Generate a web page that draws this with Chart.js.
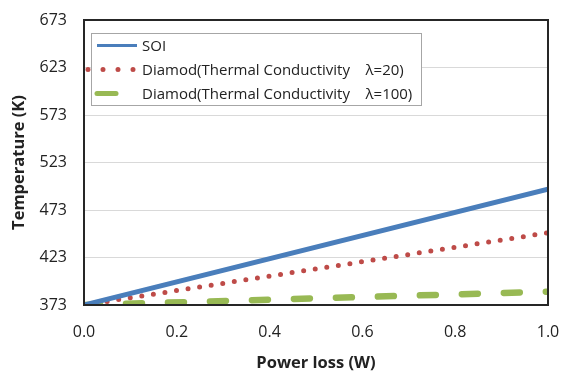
<!DOCTYPE html>
<html>
<head>
<meta charset="utf-8">
<script src="https://cdn.jsdelivr.net/npm/chart.js@4/dist/chart.umd.min.js"></script>
<style>
  html, body { margin: 0; padding: 0; background: #fff; }
  #wrap { width: 561px; height: 374px; position: relative; }
</style>
</head>
<body>
<div id="wrap"><canvas id="chart"></canvas></div>
<script>
// --- Data ---
const powerLoss = [0.0, 1.0];
const soiTemp = [373, 495];
const diamond20Temp = [373, 449];
const diamond100Temp = [373, 387];

const xTicks = [0.0, 0.2, 0.4, 0.6, 0.8, 1.0];
const yTicks = [373, 423, 473, 523, 573, 623, 673];

const seriesLabels = [
    'SOI',
    'Diamod(Thermal Conductivity    \u03bb=20)',
    'Diamod(Thermal Conductivity    \u03bb=100)'
];

const FONT = "'Open Sans', 'Noto Sans', sans-serif";

const toPoints = (ys) => powerLoss.map((x, i) => ({ x: x, y: ys[i] }));

// box around plot + legend inside it
const framePlugin = {
    id: 'frame',
    afterDraw(chart) {
        const { ctx, chartArea: a } = chart;
        ctx.save();
        ctx.strokeStyle = '#262626';
        ctx.lineWidth = 2;
        ctx.strokeRect(a.left, a.top, a.right - a.left, a.bottom - a.top);

        // legend
        const lx = a.left + 7, ly = a.top + 13, lw = 330, lh = 72;
        ctx.fillStyle = '#fff';
        ctx.fillRect(lx, ly, lw, lh);
        ctx.strokeStyle = '#a6a6a6';
        ctx.lineWidth = 1;
        ctx.strokeRect(lx + 0.5, ly + 0.5, lw, lh);

        chart.data.datasets.forEach((ds, i) => {
            const yy = ly + 12.5 + i * 24;
            ctx.beginPath();
            ctx.strokeStyle = ds.borderColor;
            ctx.lineWidth = i === 0 ? 3 : ds.borderWidth;
            ctx.lineCap = ds.borderCapStyle || 'butt';
            ctx.setLineDash(i === 1 ? [0, 15] : []);
            if (i === 2) { ctx.lineWidth = 5; ctx.lineCap = 'round'; }
            const x0 = i === 1 ? lx - 3 : lx + 6;
            const x1 = i === 2 ? lx + 25 : lx + 46;
            ctx.moveTo(x0, yy);
            ctx.lineTo(x1, yy);
            ctx.stroke();
            ctx.setLineDash([]);
            ctx.fillStyle = '#222';
            ctx.font = '15px ' + FONT;
            ctx.textBaseline = 'middle';
            ctx.fillText(ds.label, lx + 51, yy + 1);
        });
        ctx.restore();
    }
};

new Chart(document.getElementById('chart').getContext('2d'), {
    type: 'line',
    data: {
        datasets: [
            {
                label: seriesLabels[0],
                data: toPoints(soiTemp),
                borderColor: '#4a7ebb',
                borderWidth: 5,
                pointRadius: 0,
                fill: false
            },
            {
                label: seriesLabels[1],
                data: toPoints(diamond20Temp),
                borderColor: '#be4b48',
                borderWidth: 5,
                borderDash: [0, 11.7],
                borderCapStyle: 'round',
                pointRadius: 0,
                fill: false
            },
            {
                label: seriesLabels[2],
                data: toPoints(diamond100Temp),
                borderColor: '#98b954',
                borderWidth: 6.5,
                borderDash: [16, 26],
                borderCapStyle: 'round',
                pointRadius: 0,
                fill: false
            }
        ]
    },
    options: {
        responsive: true,
        maintainAspectRatio: false,
        animation: false,
        layout: { padding: { top: 20, right: 13, left: 0, bottom: 0 } },
        plugins: {
            legend: { display: false },
            tooltip: { enabled: false }
        },
        scales: {
            x: {
                type: 'linear',
                min: 0,
                max: 1,
                afterBuildTicks: (s) => { s.ticks = xTicks.map(v => ({ value: v })); },
                afterFit: (s) => { s.height = 69; s.paddingLeft = 0; s.paddingRight = 0; },
                grid: { display: false, drawTicks: false },
                border: { display: false },
                ticks: {
                    color: '#222',
                    font: { family: FONT, size: 16 },
                    padding: 18,
                    callback: (v) => Number(v).toFixed(1)
                },
                title: {
                    display: true,
                    text: 'Power loss (W)',
                    color: '#222',
                    font: { family: FONT, size: 16.5, weight: 'bold' },
                    padding: { top: 0, bottom: 1 }
                }
            },
            y: {
                min: 373,
                max: 673,
                afterBuildTicks: (s) => { s.ticks = yTicks.map(v => ({ value: v })); },
                afterFit: (s) => { s.width = 84; s.paddingTop = 0; s.paddingBottom = 0; },
                grid: { color: '#d9d9d9', lineWidth: 1, drawTicks: false },
                border: { display: false },
                ticks: {
                    color: '#222',
                    font: { family: FONT, size: 16 },
                    padding: 17
                },
                title: {
                    display: true,
                    text: 'Temperature (K)',
                    color: '#222',
                    font: { family: FONT, size: 16.5, weight: 'bold' },
                    padding: { top: 9, bottom: 0 }
                }
            }
        }
    },
    plugins: [framePlugin]
});
</script>
</body>
</html>
